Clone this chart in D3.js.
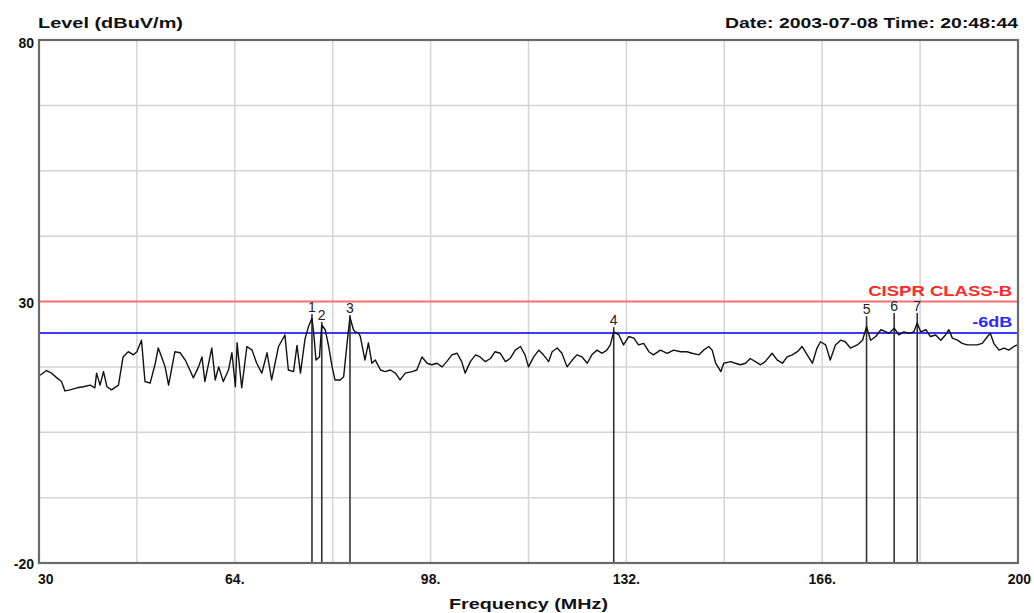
<!DOCTYPE html>
<html>
<head>
<meta charset="utf-8">
<script src="https://cdn.jsdelivr.net/npm/d3@7"></script>
<style>
  body { margin: 0; background: #fff; }
  text { font-family: "Liberation Sans", Arial, sans-serif; }
</style>
</head>
<body>
<div id="chart"></div>
<script>
// measured trace (frequency in MHz, level in dBuV/m)
var freqs = [30.2,31.3,32.2,33.1,33.9,34.5,35.4,36.6,37.7,38.9,39.7,40.0,40.6,41.2,41.8,42.6,43.8,44.6,45.5,46.4,
  47.0,47.8,48.4,49.3,50.2,50.7,51.3,51.9,52.5,53.1,53.6,54.5,55.4,56.2,56.8,57.7,58.3,58.8,60.0,60.6,
  61.2,62.0,62.9,63.5,64.1,64.4,65.2,66.1,67.0,67.8,68.7,69.6,70.4,71.6,72.7,73.3,74.2,74.8,75.4,76.2,
  76.8,77.4,77.7,78.1,78.7,79.1,79.7,80.3,80.9,81.4,82.3,82.9,83.5,84.0,84.6,84.9,85.5,85.8,86.6,87.2,
  87.8,88.4,89.3,90.1,91.0,91.9,92.7,93.6,94.8,95.6,96.5,97.4,98.2,99.1,100.0,100.8,101.7,102.6,103.4,104.0,
  104.9,105.8,106.6,107.5,108.4,109.2,110.1,111.0,111.8,112.7,113.6,114.4,115.0,115.9,116.8,117.6,118.5,119.1,120.0,120.8,
  121.7,122.6,123.4,124.3,125.2,126.0,126.9,127.8,128.6,129.2,129.8,130.7,131.5,132.4,133.3,134.1,135.0,135.9,136.7,137.9,
  139.1,140.2,141.4,142.5,143.4,144.6,145.4,146.3,146.9,147.5,148.4,148.9,150.1,150.9,151.8,152.7,153.5,154.4,155.3,156.1,
  157.3,158.2,159.1,159.9,160.8,161.7,162.5,163.4,164.3,165.1,165.7,166.6,167.4,168.3,169.2,170.0,170.9,172.1,173.0,173.7,
  174.4,175.3,176.2,177.1,177.6,178.5,179.3,180.2,181.1,181.9,182.5,183.1,184.0,184.8,185.7,186.6,187.4,188.0,188.6,189.5,
  190.3,191.2,192.1,192.9,193.8,194.7,195.2,195.8,196.7,197.6,198.4,199.3,199.9];
var levels = [15.9,16.8,16.3,15.4,14.7,12.9,13.1,13.5,13.7,14.0,13.5,16.3,14.0,16.6,13.7,13.1,14.0,19.4,20.4,19.8,
  20.4,22.6,14.7,14.4,18.2,21.1,19.4,17.5,14.0,17.5,20.4,20.2,18.8,16.9,15.4,17.5,19.4,14.7,21.1,15.0,
  17.5,14.7,16.9,20.2,13.7,22.1,13.5,21.4,20.7,18.2,16.3,20.2,15.0,21.4,23.6,16.9,16.6,21.6,16.3,22.9,
  25.2,26.8,24.0,18.8,19.4,25.5,24.6,21.4,17.5,15.0,15.0,15.6,22.1,27.0,24.6,24.2,24.0,23.3,18.8,22.1,
  18.2,18.8,16.9,16.6,16.9,16.3,15.0,16.3,16.6,16.9,19.4,18.2,17.9,18.2,17.5,18.5,19.8,20.1,18.5,16.3,
  18.5,19.8,19.4,18.5,19.1,20.4,20.1,18.5,19.1,20.7,21.4,19.8,17.5,19.4,20.7,19.8,18.5,20.4,21.1,20.1,
  17.5,18.8,19.8,19.4,18.2,19.8,20.7,20.1,20.7,21.7,24.2,23.6,21.7,23.3,23.0,21.7,22.0,20.4,19.8,20.7,
  20.1,20.7,20.4,20.4,20.1,19.8,20.7,21.4,20.7,18.2,16.6,18.2,18.5,18.2,17.9,18.2,19.1,18.5,17.9,18.5,
  20.1,18.8,18.2,19.4,19.8,20.4,21.4,19.8,18.2,21.1,22.3,21.7,18.8,21.7,22.6,22.3,21.1,21.7,22.6,25.2,
  22.6,23.3,24.6,24.2,23.9,24.9,23.6,24.2,23.9,24.2,25.9,24.2,24.6,23.3,23.6,22.6,23.6,24.6,23.0,22.6,
  22.0,21.7,21.7,21.7,22.0,23.3,23.9,22.0,20.7,21.1,20.7,21.4,21.7];

// markers
var markerNames = ["1","2","3","4","5","6","7"];
var markerFreqs = [77.4,79.1,84.0,129.8,173.7,178.5,182.5];
var markerLevels = [27.6,26.1,27.4,25.1,27.2,27.8,27.8];

// limit lines
var limitLevel = 30;
var marginLevel = 24;

var xTicks = [30,47,64,81,98,115,132,149,166,183,200];
var xTickLabels = {30:"30",64:"64.",98:"98.",132:"132.",166:"166.",200:"200"};
var yTicks = [80,67.5,55,42.5,30,17.5,5,-7.5,-20];
var yTickLabels = {80:"80",30:"30","-20":"-20"};

var margin = {top: 40, right: 16, bottom: 50, left: 39},
    width = 1034 - margin.left - margin.right,
    height = 613 - margin.top - margin.bottom;

var svg = d3.select("#chart")
  .append("svg")
  .attr("width", 1034)
  .attr("height", 613);

var g = svg.append("g")
  .attr("transform", "translate(" + margin.left + "," + margin.top + ")");

var x = d3.scaleLinear().domain([30, 200]).range([0, width]);
var y = d3.scaleLinear().domain([-20, 80]).range([height, 0]);

// grid
g.append("g").selectAll("line.v")
  .data(xTicks).enter().append("line")
  .attr("x1", d => x(d)).attr("x2", d => x(d))
  .attr("y1", 0).attr("y2", height)
  .style("stroke", "#d4d4d4").style("stroke-width", 1.5);

g.append("g").selectAll("line.h")
  .data(yTicks).enter().append("line")
  .attr("x1", 0).attr("x2", width)
  .attr("y1", d => y(d)).attr("y2", d => y(d))
  .style("stroke", "#d4d4d4").style("stroke-width", 1.5);

// limit + margin lines
g.append("line")
  .attr("x1", 0).attr("x2", width)
  .attr("y1", y(limitLevel)).attr("y2", y(limitLevel))
  .style("stroke", "#ff7070").style("stroke-width", 2);
g.append("line")
  .attr("x1", 0).attr("x2", width)
  .attr("y1", y(marginLevel)).attr("y2", y(marginLevel))
  .style("stroke", "#3a3aff").style("stroke-width", 2);

// marker lines
g.append("g").selectAll("line")
  .data(markerFreqs).enter().append("line")
  .attr("x1", d => x(d)).attr("x2", d => x(d))
  .attr("y1", (d, i) => y(markerLevels[i])).attr("y2", height)
  .style("stroke", "#333").style("stroke-width", 1.6);

// trace
var trace = freqs.map((f, i) => [f, levels[i]]);
g.append("path")
  .datum(trace)
  .attr("fill", "none")
  .attr("stroke", "#111")
  .attr("stroke-width", 1.4)
  .attr("stroke-linejoin", "round")
  .attr("d", d3.line().x(d => x(d[0])).y(d => y(d[1])));

// marker numbers
g.append("g").selectAll("text")
  .data(markerNames).enter().append("text")
  .attr("x", (d, i) => x(markerFreqs[i]))
  .attr("y", (d, i) => y(markerLevels[i]) - 2)
  .attr("text-anchor", "middle")
  .style("font-size", "14px")
  .style("fill", "#222")
  .text(d => d);

// frame
g.append("rect")
  .attr("x", 0).attr("y", 0)
  .attr("width", width).attr("height", height)
  .attr("fill", "none")
  .style("stroke", "#6a6a6a").style("stroke-width", 2.2);

// limit labels
g.append("text")
  .attr("x", x(199) - 144).attr("y", y(limitLevel) - 6)
  .attr("textLength", 144).attr("lengthAdjust", "spacingAndGlyphs")
  .style("font-size", "15px").style("font-weight", "bold")
  .style("fill", "#ff2a2a")
  .text("CISPR CLASS-B");
g.append("text")
  .attr("x", x(199) - 40).attr("y", y(marginLevel) - 6)
  .attr("textLength", 40).attr("lengthAdjust", "spacingAndGlyphs")
  .style("font-size", "15px").style("font-weight", "bold")
  .style("fill", "#2a2aff")
  .text("-6dB");

// y tick labels
g.append("g").selectAll("text")
  .data(yTicks.filter(d => yTickLabels[d] !== undefined)).enter().append("text")
  .attr("x", -5)
  .attr("y", d => y(d) + (d === 80 ? 8 : 6))
  .attr("text-anchor", "end")
  .style("font-size", "14px").style("font-weight", "bold")
  .style("fill", "#111")
  .text(d => yTickLabels[d]);

// x tick labels
var xl = xTicks.filter(d => xTickLabels[d] !== undefined);
g.append("g").selectAll("text")
  .data(xl).enter().append("text")
  .attr("x", d => x(d) + (d === 30 ? -1 : d === 200 ? 13 : 0))
  .attr("y", height + 21)
  .attr("text-anchor", d => d === 30 ? "start" : d === 200 ? "end" : "middle")
  .style("font-size", "14px").style("font-weight", "bold")
  .style("fill", "#111")
  .text(d => xTickLabels[d]);

// titles
svg.append("text")
  .attr("x", 38).attr("y", 28)
  .attr("textLength", 145).attr("lengthAdjust", "spacingAndGlyphs")
  .style("font-size", "15px").style("font-weight", "bold")
  .style("fill", "#111")
  .text("Level (dBuV/m)");

svg.append("text")
  .attr("x", 725).attr("y", 28)
  .attr("textLength", 293).attr("lengthAdjust", "spacingAndGlyphs")
  .style("font-size", "15px").style("font-weight", "bold")
  .style("fill", "#111")
  .text("Date: 2003-07-08  Time: 20:48:44");

svg.append("text")
  .attr("x", 449).attr("y", 609)
  .attr("textLength", 159).attr("lengthAdjust", "spacingAndGlyphs")
  .style("font-size", "15px").style("font-weight", "bold")
  .style("fill", "#111")
  .text("Frequency (MHz)");
</script>
</body>
</html>
